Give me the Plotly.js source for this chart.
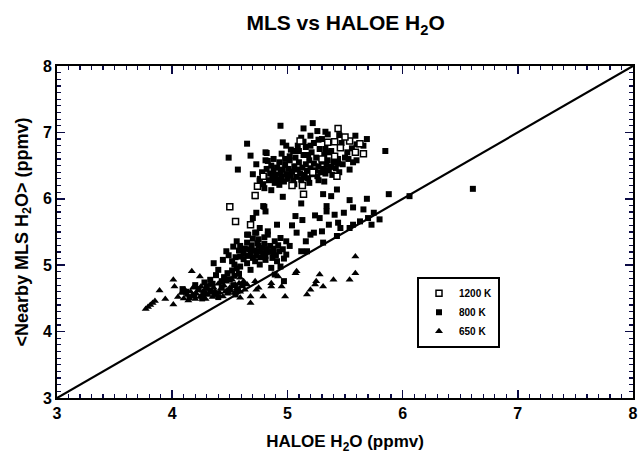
<!DOCTYPE html>
<html>
<head>
<meta charset="utf-8">
<script src="https://cdn.plot.ly/plotly-3.0.1.min.js"></script>
<style>html,body{margin:0;padding:0;background:#fff;}#chart{width:640px;height:460px;}</style>
</head>
<body>
<div id="chart"></div>
<script>
// ---- data ----
const seriesNames = ["1200 K", "800 K", "650 K"];

// 1200 K : open squares  [HALOE, MLS]
const s1200 = [
  [5.44,7.06],[5.11,6.87],[5.41,6.86],[5.54,6.87],[5.46,6.77],[5.59,6.70],[5.66,6.68],
  [5.41,6.64],[5.43,6.34],[4.72,6.05],[5.14,6.07],[4.74,6.19],[5.04,6.20],[5.13,6.20],
  [4.50,5.88],[4.55,5.66],[4.68,5.61],[5.35,6.85],[4.79,6.34],[5.50,6.93],[5.30,6.60],
  [5.22,6.40],[5.63,6.83]
];

// 800 K : filled squares
const s800 = [
  // upper scattered
  [4.94,7.10],[5.22,7.14],[5.14,7.06],[5.33,7.01],[5.45,6.96],[5.27,6.89],[5.14,6.86],
  [4.96,6.85],[5.59,6.95],[5.69,6.90],[5.60,6.82],[5.66,6.80],[5.56,6.76],[4.81,6.70],
  [5.05,6.72],[4.99,6.80],[5.20,6.80],[5.33,6.75],[5.38,6.72],[5.60,6.58],[5.57,6.55],
  [5.44,6.53],[5.54,6.44],[5.43,6.14],[4.96,6.03],[5.31,6.07],[5.38,6.04],[5.54,5.98],
  [5.69,6.00],[5.88,6.07],[4.73,6.52],[4.70,6.37],[4.80,6.16],[4.86,6.13],[4.79,5.89],
  [5.12,5.93],[5.34,5.89],[5.85,6.72],[4.65,6.83],[4.49,6.62],[4.57,6.44],[4.68,6.65],
  [4.82,6.69],[4.83,6.57],[4.76,6.27],[4.72,6.04],[4.81,5.81],[4.73,5.79],[4.70,5.71],
  [5.53,6.60],
  // upper core
  [4.78,6.40],[4.80,6.33],[4.82,6.45],[4.84,6.28],[4.85,6.38],[4.86,6.50],[4.87,6.31],
  [4.88,6.42],[4.89,6.24],[4.90,6.36],[4.91,6.47],[4.92,6.29],[4.93,6.55],[4.94,6.39],
  [4.95,6.33],[4.96,6.44],[4.97,6.26],[4.98,6.51],[4.99,6.37],[5.00,6.30],[5.01,6.45],
  [5.02,6.58],[5.03,6.35],[5.04,6.41],[5.05,6.27],[5.06,6.49],[5.07,6.62],[5.08,6.33],
  [5.09,6.44],[5.10,6.55],[5.11,6.38],[5.12,6.29],[5.13,6.47],[5.14,6.66],[5.15,6.36],
  [5.16,6.52],[5.17,6.42],[5.18,6.31],[5.19,6.58],[5.20,6.46],[5.21,6.70],[5.22,6.37],
  [5.23,6.53],[5.24,6.43],[5.25,6.62],[5.26,6.34],[5.27,6.49],[5.28,6.75],[5.29,6.40],
  [5.30,6.56],[5.31,6.45],[5.32,6.66],[5.33,6.38],[5.34,6.51],[5.35,6.58],[5.36,6.43],
  [5.37,6.70],[5.38,6.48],[5.39,6.36],[5.40,6.55],[5.42,6.46],[5.44,6.60],
  [4.81,6.58],[4.88,6.60],[4.95,6.68],[5.03,6.74],[5.09,6.80],[5.16,6.78],[5.23,6.84],
  [5.30,6.90],[5.12,6.92],[5.20,6.95],[5.26,7.02],[5.35,6.97],[4.76,6.30],[4.79,6.22],
  [4.93,6.21],[5.06,6.22],[5.19,6.24],[5.32,6.26],[5.45,6.40],[5.48,6.52],[5.50,6.62],
  [5.52,6.70],[5.47,6.84],[5.02,6.64],[5.18,6.66],[5.10,6.72],[4.98,6.60],[4.90,6.28],
  [5.14,6.32],[5.27,6.28],
  // middle: near the diagonal and between clusters
  [4.66,5.46],[4.73,5.49],[4.83,5.46],[4.76,5.56],[4.91,5.61],[5.07,5.74],[5.13,5.68],
  [5.24,5.75],[5.28,5.71],[5.34,5.81],[5.41,5.76],[5.36,5.61],[5.30,5.51],[5.20,5.46],
  [5.16,5.36],[5.12,5.21],[5.31,5.34],[5.43,5.44],[5.08,5.49],[5.23,5.49],[5.44,5.64],
  [5.54,5.56],[5.57,5.61],[5.63,5.66],[5.73,5.61],[5.80,5.69],[5.46,5.56],[5.70,5.71],
  [5.75,5.79],[5.49,5.79],[5.57,5.87],[5.66,5.84],[6.06,6.04],[6.61,6.15],[4.80,5.88],
  [5.17,5.21],[5.04,5.60],
  // middle cluster
  [4.65,5.46],[4.72,5.49],[4.75,5.39],[4.83,5.51],[4.89,5.36],[4.94,5.41],[4.99,5.36],
  [5.02,5.29],[4.56,5.36],[4.47,5.21],[4.44,5.08],[4.52,5.06],[4.59,5.13],[4.68,5.18],
  [4.76,5.21],[4.82,5.24],[4.88,5.18],[4.91,5.06],[4.81,5.08],[4.72,5.06],[4.65,5.03],
  [4.59,4.98],[4.36,5.03],[4.40,4.93],[4.68,4.93],[4.76,5.01],[4.86,4.96],[4.94,4.98],
  [4.75,5.29],[4.65,5.34],[4.99,5.16],[4.59,5.29],
  [4.55,5.12],[4.58,5.22],[4.62,5.09],[4.63,5.25],[4.66,5.14],[4.69,5.30],[4.70,5.11],
  [4.71,5.22],[4.73,5.15],[4.74,5.33],[4.77,5.12],[4.78,5.26],[4.79,5.18],[4.80,5.32],
  [4.81,5.14],[4.84,5.20],[4.85,5.29],[4.87,5.11],[4.88,5.25],[4.90,5.15],[4.92,5.30],
  [4.93,5.21],[4.96,5.24],[4.97,5.10],[4.70,5.40],[4.80,5.42],[4.62,5.17],[4.67,5.24],
  [4.54,5.01],[4.49,5.15],[4.53,5.28],
  // top of the lower cluster
  [4.45,4.82],[4.48,4.88],[4.50,4.79],[4.52,4.92],[4.54,4.84],[4.56,4.95],[4.58,4.87],
  [4.43,4.76],[4.33,4.78],[4.38,4.85],[4.28,4.74],[4.89,4.86],[4.97,4.76],
  // lower cluster
  [4.12,4.60],[4.19,4.55],[4.23,4.64],[4.28,4.58],[4.33,4.62],[4.38,4.57],[4.43,4.67],
  [4.49,4.61],[4.53,4.70],[4.57,4.63],[4.15,4.52],[4.26,4.50],[4.40,4.52],[4.46,4.78],
  [4.35,4.72],[4.30,4.68],[4.20,4.70],[4.09,4.64],[4.61,4.71],[4.55,4.56]
];

// 650 K : triangles
const s650 = [
  [3.77,4.34],[3.79,4.37],[3.81,4.40],[3.83,4.43],[3.85,4.46],
  [3.89,4.62],[3.94,4.49],[4.01,4.41],[4.01,4.78],[4.02,4.68],[4.17,4.91],[4.24,4.83],
  [4.59,4.81],
  [4.05,4.52],[4.08,4.58],[4.10,4.50],[4.11,4.63],[4.13,4.55],[4.14,4.47],[4.16,4.60],
  [4.17,4.53],[4.18,4.66],[4.20,4.49],[4.21,4.57],[4.22,4.62],[4.24,4.52],[4.25,4.68],
  [4.26,4.56],[4.27,4.61],[4.29,4.49],[4.30,4.64],[4.31,4.55],[4.32,4.70],[4.34,4.58],
  [4.35,4.52],[4.36,4.66],[4.37,4.61],[4.39,4.55],[4.40,4.72],[4.41,4.59],[4.42,4.64],
  [4.44,4.53],[4.45,4.69],[4.46,4.60],[4.47,4.75],[4.48,4.57],[4.50,4.66],[4.51,4.62],
  [4.52,4.78],[4.54,4.58],[4.55,4.70],[4.56,4.65],[4.58,4.73],[4.59,4.60],[4.60,4.68],
  [4.62,4.76],[4.63,4.63],[4.65,4.71],
  [4.68,4.43],[4.68,4.53],[4.73,4.63],[4.79,4.53],[4.86,4.73],[4.92,4.83],[4.95,4.68],
  [4.98,4.53],[5.08,4.91],[4.62,4.73],[4.59,4.51],[4.72,4.76],[4.75,4.66],[4.86,4.68],
  [5.28,4.86],[5.40,4.78],[5.24,4.71],[5.31,4.68],[5.20,4.63],[5.17,4.56],[5.59,5.13],
  [5.59,4.88],[5.54,4.78],[5.25,4.76],[5.07,4.88]
];

// 1:1 reference line
const lineX = [3, 8];
const lineY = [3, 8];

// ---- chart ----
const FONT = "Liberation Sans, Arial, Helvetica, sans-serif";
const TICK = "#0b0b45";
const xs = s => s.map(p => p[0]);
const ys = s => s.map(p => p[1]);

const traces = [
  {x: lineX, y: lineY, mode: "lines", line: {color: "#000", width: 2.2},
   showlegend: false, hoverinfo: "skip"},
  {x: xs(s650), y: ys(s650), name: seriesNames[2], mode: "markers", legendrank: 3,
   marker: {symbol: "triangle-up", size: 7, color: "#000", line: {width: 0}}},
  {x: xs(s800), y: ys(s800), name: seriesNames[1], mode: "markers", legendrank: 2,
   marker: {symbol: "square", size: 6, color: "#000", line: {width: 0}}},
  {x: xs(s1200), y: ys(s1200), name: seriesNames[0], mode: "markers", legendrank: 1,
   marker: {symbol: "square", size: 6, color: "#fff", line: {color: "#000", width: 1.5}}}
];

const axisCommon = {
  range: [3, 8], tickmode: "linear", tick0: 3, dtick: 1,
  ticks: "inside", ticklen: 8, tickwidth: 1.5, tickcolor: TICK,
  minor: {dtick: 0.1, tick0: 3, ticks: "inside", ticklen: 4, tickwidth: 1.2, tickcolor: TICK},
  showline: true, linewidth: 2, linecolor: "#000", mirror: "allticks",
  showgrid: false, zeroline: false,
  tickfont: {family: FONT, size: 16, color: "#000", weight: "bold"}
};

const layout = {
  width: 640, height: 460,
  margin: {l: 57, r: 7, t: 66, b: 62},
  paper_bgcolor: "#fff", plot_bgcolor: "#fff",
  font: {family: FONT, color: "#000"},
  title: {text: "MLS vs HALOE H<sub>2</sub>O", x: 0.54, xref: "container", xanchor: "center",
          y: 0.95, yref: "container", yanchor: "middle",
          font: {family: FONT, size: 21, color: "#000", weight: "bold"}},
  xaxis: Object.assign({}, axisCommon, {
    title: {text: "HALOE H<sub>2</sub>O (ppmv)", standoff: 14,
            font: {family: FONT, size: 17, color: "#000", weight: "bold"}}
  }),
  yaxis: Object.assign({}, axisCommon, {
    title: {text: "&lt;Nearby MLS H<sub>2</sub>O&gt; (ppmv)", standoff: 10,
            font: {family: FONT, size: 18, color: "#000", weight: "bold"}}
  }),
  showlegend: true,
  legend: {x: 0.625, y: 0.365, xanchor: "left", yanchor: "top",
           bgcolor: "#fff", bordercolor: "#000", borderwidth: 2,
           itemwidth: 30, tracegroupgap: 0,
           font: {family: FONT, size: 10, color: "#000", weight: "bold"}}
};

Plotly.newPlot("chart", traces, layout, {staticPlot: true, displayModeBar: false});
</script>
</body>
</html>
